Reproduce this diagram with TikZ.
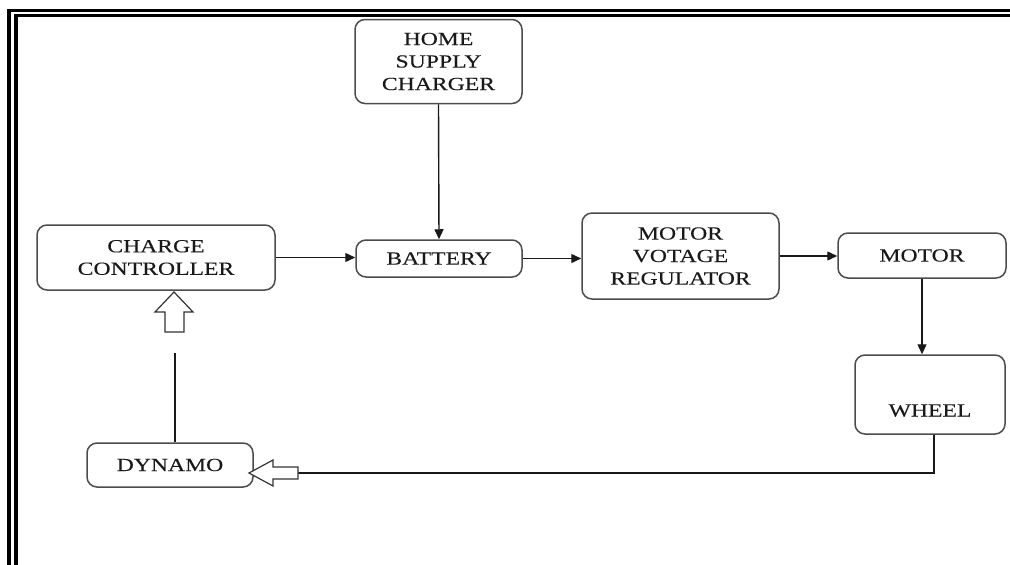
\documentclass[tikz,border=0pt]{standalone}
\usepackage{fontspec}
\setmainfont{Liberation Serif}[FakeStretch=1.28,FakeBold=0.15]
\usetikzlibrary{arrows.meta,calc}
\begin{document}
\begin{tikzpicture}[x=1pt,y=-1pt]
\tikzset{
 blk/.style={draw=black!70, line width=1.5pt, rounded corners=10pt, align=center,
   font=\fontsize{18.5}{22.5}\selectfont, text=black!90, inner sep=0pt},
 conn/.style={line width=1.4pt, draw=black!90},
 arr/.style={conn, -{Triangle[length=10pt,width=9pt]}},
 fat/.style={draw=black!80, line width=1.2pt, fill=white, line join=miter},
 frame/.style={line width=3.6pt, draw=black}
}
\useasboundingbox (0,0) rectangle (1010,565);
% frame
\draw[frame] (9,565) -- (9,10.5) -- (1010,10.5);
\draw[frame] (16,565) -- (16,15.5) -- (1010,15.5);
% blocks
\node[blk, minimum width=167, minimum height=84] (home) at (438.5,61.5) {HOME\\SUPPLY\\CHARGER};
\node[blk, minimum width=238, minimum height=65] (cc) at (156,257.5) {CHARGE\\CONTROLLER};
\node[blk, minimum width=166, minimum height=37] (bat) at (439,258.5) {BATTERY};
\node[blk, minimum width=197, minimum height=86] (mvr) at (680.5,256) {MOTOR\\VOTAGE\\REGULATOR};
\node[blk, minimum width=168, minimum height=45] (mot) at (922,255.5) {MOTOR};
\node[blk, minimum width=150, minimum height=79, text height=46pt, text depth=2pt] (whl) at (930,394.5) {WHEEL};
\node[blk, minimum width=166, minimum height=44] (dyn) at (170,465) {DYNAMO};
% connectors
\draw[arr] (home.south) -- (bat.north);
\draw[arr] (cc.east) -- (cc.east -| bat.west);
\draw[arr] (bat.east) -- (bat.east -| mvr.west);
\draw[arr] (mvr.east) -- (mvr.east -| mot.west);
\draw[arr] (mot.south) -- (mot.south |- whl.north);
\coordinate (w1) at ($(whl.south)+(4,0)$);
\coordinate (tail) at (298,473);
\draw[conn] (w1) -- (w1 |- tail) -- (tail);
\draw[fat] (249,473) -- (273,460) -- (273,467) -- (298,467) -- (298,479) -- (273,479) -- (273,486) -- cycle;
\coordinate (up) at (175,353);
\draw[conn] (dyn.north -| up) -- (up);
\draw[fat] (174,292) -- (193,312) -- (184,312) -- (184,332) -- (165,332) -- (165,312) -- (155,312) -- cycle;
\end{tikzpicture}
\end{document}
